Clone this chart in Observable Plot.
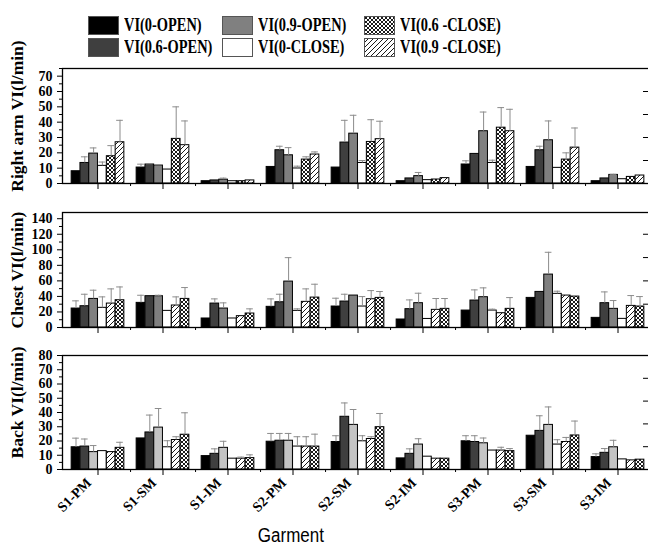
<!DOCTYPE html>
<html><head><meta charset="utf-8">
<script src="https://cdn.jsdelivr.net/npm/d3@7"></script>
<script src="https://cdn.jsdelivr.net/npm/@observablehq/plot@0.6"></script>
<style>
body{margin:0;background:#fff;}
#wrap{position:relative;width:648px;height:550px;overflow:hidden;font-family:"Liberation Serif","Times New Roman",serif;}
.panel{position:absolute;left:0;}
.leg{position:absolute;display:flex;align-items:center;font-weight:bold;font-size:18px;height:20px;background:#fff;}
.leg svg{flex:none;margin-right:5px;}
.leg span{display:inline-block;transform:scaleX(0.8);transform-origin:left center;white-space:nowrap;}
#xlab{position:absolute;top:524px;left:0;width:582px;text-align:center;font-family:"Liberation Sans",Arial,sans-serif;font-size:20px;}
#xlab span{display:inline-block;transform:scaleX(0.85);}
</style></head>
<body>
<svg width="0" height="0" style="position:absolute">
<defs>
<pattern id="checker" patternUnits="userSpaceOnUse" width="4" height="4"><rect width="4" height="4" fill="white"/><path d="M0,0L4,4M4,0L0,4" stroke="#000" stroke-width="0.9"/></pattern>
<pattern id="hatch" patternUnits="userSpaceOnUse" width="5" height="5"><rect width="5" height="5" fill="white"/><path d="M-1,1L1,-1M0,5L5,0M4,6L6,4" stroke="#000" stroke-width="0.9"/></pattern>
</defs></svg>
<div id="wrap"></div>
<script>
const garments = ["S1-PM","S1-SM","S1-IM","S2-PM","S2-SM","S2-IM","S3-PM","S3-SM","S3-IM"];
const seriesNames = ["VI(0-OPEN)","VI(0.6-OPEN)","VI(0.9-OPEN)","VI(0-CLOSE)","VI(0.6 -CLOSE)","VI(0.9 -CLOSE)"];
const seriesFills = ["#000000","#3f3f3f","#808080","#ffffff","url(#checker)","url(#hatch)"];
const backGrayFill = "#c4c4c4";

// bar order inside each group, as drawn (indices into seriesNames)
const armOrder = [0,1,2,3,4,5];
const chestOrder = [0,1,2,3,5,4];
const backOrder = [0,1,2,3,5,4];

// Right arm VI (l/min): rows follow armOrder
const armMean = [
 [8.0,10.4,1.5,10.8,10.4,1.5,12.4,10.8,1.5],
 [13.4,12.4,2.0,21.7,26.7,3.3,19.3,21.7,3.3],
 [19.5,11.7,2.5,18.4,32.5,4.8,34.1,28.2,5.6],
 [11.5,9.1,1.5,9.8,13.4,2.2,13.4,10.2,2.8],
 [17.8,29.1,1.5,15.6,27.1,2.6,36.4,15.6,4.3],
 [26.9,25.0,2.0,18.9,28.9,3.5,34.1,23.4,5.2]];
const armTop = [
 [8.0,12.6,1.5,10.8,10.4,1.5,14.8,10.8,1.5],
 [17.4,12.8,2.0,24.3,41.2,3.3,19.3,24.3,3.3],
 [23.2,12.2,3.5,23.4,44.5,7.2,46.6,40.8,6.0],
 [14.0,9.8,1.5,11.3,15.0,2.2,15.2,10.2,2.8],
 [24.7,50.0,1.5,17.4,41.6,2.6,49.5,20.0,4.3],
 [41.2,40.8,2.0,20.6,40.6,3.5,48.4,36.2,5.2]];

// Chest VI (l/min): rows follow chestOrder
const chestMean = [
 [24.4,31.7,11.6,26.6,27.0,10.3,21.8,38.1,12.4],
 [27.4,40.3,30.8,32.5,33.4,23.6,34.7,45.8,31.3],
 [36.8,40.3,24.4,59.1,41.1,31.3,39.0,68.1,24.0],
 [25.3,21.4,11.6,21.4,27.0,11.0,21.8,43.3,11.1],
 [30.8,28.3,14.6,33.0,36.4,22.7,18.4,41.1,27.8],
 [35.1,36.8,18.0,38.5,38.1,24.0,24.0,39.8,27.0]];
const chestTop = [
 [34.3,41.5,11.6,36.8,37.7,10.3,21.8,38.1,12.4],
 [42.8,40.3,36.8,42.8,42.8,35.5,48.4,45.8,45.8],
 [48.0,41.5,31.7,89.9,41.1,44.1,51.0,96.8,34.7],
 [39.4,21.4,11.6,24.0,39.8,11.0,23.6,46.7,11.1],
 [49.7,39.4,14.6,49.7,47.5,37.3,18.4,41.1,41.1],
 [52.2,51.4,24.0,55.7,46.3,37.3,38.5,39.8,39.8]];

// Back VI (l/min): rows follow backOrder
const backMean = [
 [15.6,21.8,9.4,19.5,19.3,7.8,19.8,23.7,8.7],
 [16.1,26.0,11.0,20.2,37.0,11.0,19.3,27.1,11.7],
 [12.2,29.4,15.2,20.2,31.3,17.5,18.4,31.3,15.6],
 [12.9,15.6,7.6,16.1,19.8,9.0,13.3,17.5,7.1],
 [12.2,20.7,7.6,16.1,21.4,7.6,13.3,19.3,6.4],
 [15.2,24.4,8.0,16.1,29.7,7.6,12.9,23.9,6.9]];
const backTop = [
 [22.0,21.8,9.4,25.3,23.7,7.8,23.7,23.7,11.0],
 [21.4,38.2,14.5,25.3,46.7,14.5,23.7,37.7,14.7],
 [16.8,42.8,19.8,25.3,42.1,21.6,22.1,43.9,20.5],
 [12.9,20.2,7.6,23.0,23.7,9.0,13.3,20.9,7.1],
 [12.2,23.0,8.7,23.0,23.0,7.6,15.6,22.5,6.4],
 [19.1,39.8,10.3,24.8,39.3,7.6,14.7,34.0,6.9]];

const armMajor = [0,10,20,30,40,50,60,70], armMinor = [5,15,25,35,45,55,65,75], armRight = [15,30,45,60];
const chestMajor = [0,20,40,60,80,100,120,140], chestMinor = [10,30,50,70,90,110,130], chestRight = [30,60,90,120];
const backMajor = [0,10,20,30,40,50,60,70,80], backMinor = [5,15,25,35,45,55,65,75], backRight = [16,32,48,64];

const serif = "Liberation Serif, Times New Roman, serif";
const W = 648, ML = 62, step = 65.1, bw = 8.8, pad = (step - 6*bw)/2;

function panel({means, tops, order, grayFill, domain, major, minor, right, label, labelDy, height, mt, mb, showX}) {
  const marks = [];
  order.forEach((s, k) => {
    const fill = (s === 2 && grayFill) ? grayFill : seriesFills[s];
    const rows = garments.map((g, i) => ({g, v: means[k][i], t: tops[k][i]}));
    const err = rows.filter(d => d.t > d.v + 0.3);
    const inL = pad + k*bw, inR = pad + (5-k)*bw;
    marks.push(Plot.barY(rows, {x: "g", y: "v", fill, stroke: "#000", strokeWidth: 1, insetLeft: inL, insetRight: inR}));
    marks.push(Plot.ruleX(err, {x: "g", y1: "v", y2: "t", dx: (k - 2.5)*bw, stroke: "#8c8c8c", strokeWidth: 1}));
    marks.push(Plot.tickY(err, {x: "g", y: "t", insetLeft: inL + 1, insetRight: inR + 1, stroke: "#8c8c8c", strokeWidth: 1}));
  });
  marks.push(Plot.axisY({ticks: major, tickSize: 5, tickPadding: 5, fontSize: 14, fontWeight: "bold", label: null}));
  marks.push(Plot.axisY({ticks: minor, tickSize: 3, tickFormat: () => "", label: null}));
  marks.push(Plot.tickY(right, {y: d => d, insetLeft: W - ML - 5, stroke: "#000"}));
  marks.push(Plot.axisX({ticks: garments, tickSize: 6, label: null, tickFormat: () => ""}));
  marks.push(Plot.axisX({ticks: garments, tickSize: 3, tickFormat: () => "", label: null, dx: step/2}));
  if (showX) {
    marks.push(Plot.text(garments, {x: d => d, frameAnchor: "bottom", rotate: -45, textAnchor: "end", lineAnchor: "middle",
      dx: -9, dy: 11, fontSize: 14, fontWeight: "bold"}));
  }
  marks.push(Plot.frame({insetRight: -10, stroke: "#000", strokeWidth: 1.3}));
  marks.push(Plot.text([label], {frameAnchor: "left", textAnchor: "middle", rotate: -90, dx: -45, dy: labelDy, fontSize: 17.5, fontWeight: "bold"}));
  return Plot.plot({
    width: W, height, marginLeft: ML, marginRight: 0, marginTop: mt, marginBottom: mb,
    x: {domain: garments, range: [64.5, 650.5], padding: 0},
    y: {domain},
    style: {fontFamily: serif, overflow: "visible", background: "transparent"},
    marks
  });
}

const wrap = document.getElementById("wrap");

function place(node, top) {
  const d = document.createElement("div");
  d.className = "panel";
  d.style.top = top + "px";
  d.appendChild(node);
  wrap.appendChild(d);
  return node;
}

place(panel({means: armMean, tops: armTop, order: armOrder, domain: [0, 75], major: armMajor, minor: armMinor, right: armRight,
  label: "Right arm VI(l/min)", labelDy: -10, height: 140, mt: 8, mb: 17, showX: false}), 60);
place(panel({means: chestMean, tops: chestTop, order: chestOrder, domain: [0, 148], major: chestMajor, minor: chestMinor, right: chestRight,
  label: "Chest VI(l/min)", labelDy: 0, height: 140, mt: 12, mb: 13, showX: false}), 200);
place(panel({means: backMean, tops: backTop, order: backOrder, grayFill: backGrayFill, domain: [0, 80], major: backMajor, minor: backMinor, right: backRight,
  label: "Back VI(l/min)", labelDy: -10, height: 210, mt: 15, mb: 81, showX: true}), 340);

// legend (drawn on top)
const legendPos = [[88,15],[88,37],[222,15],[222,37],[364,15],[364,37]];
const legendSeries = [0,1,2,3,4,5];
legendSeries.forEach((s, i) => {
  const div = document.createElement("div");
  div.className = "leg";
  div.style.left = legendPos[i][0] + "px";
  div.style.top = legendPos[i][1] + "px";
  div.innerHTML = `<svg width="31" height="19"><rect x="0.5" y="0.5" width="30" height="18" fill="${seriesFills[s]}" stroke="#555" stroke-width="1"/></svg><span>${seriesNames[s]}</span>`;
  wrap.appendChild(div);
});

const xl = document.createElement("div");
xl.id = "xlab";
xl.innerHTML = "<span>Garment</span>";
wrap.appendChild(xl);
</script>
</body></html>
